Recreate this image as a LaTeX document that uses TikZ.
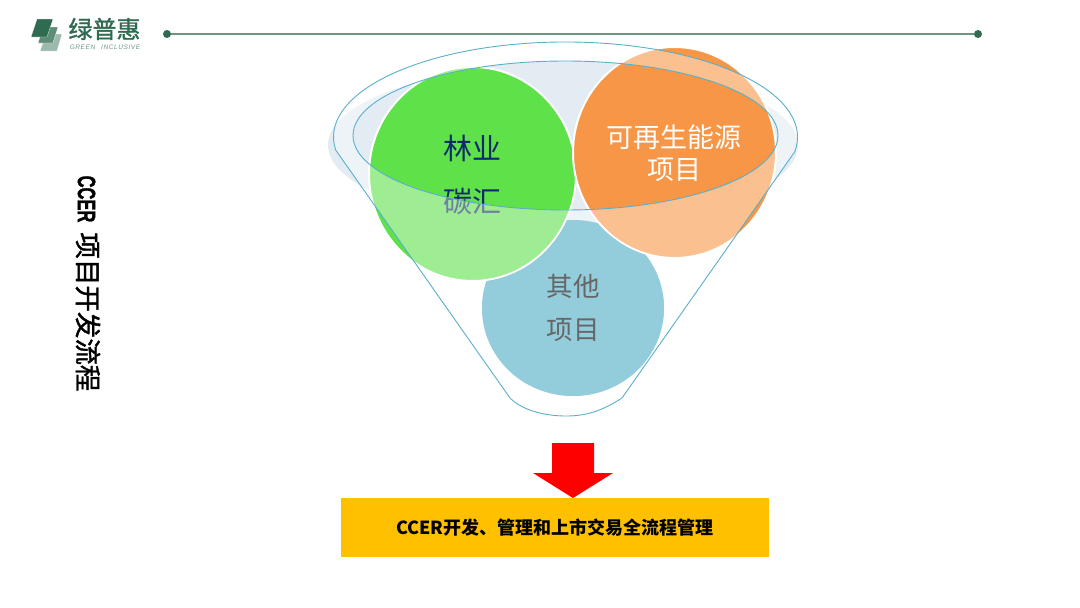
\documentclass[tikz,border=0pt]{standalone}
\usepackage{fontspec}
\usepackage{xcolor}
\setmainfont{Liberation Sans}
\newfontfamily\cjk{Noto Sans CJK SC}
\newfontfamily\cjkheavy[FakeBold=1.5]{Noto Sans CJK SC}
\newfontfamily\latinheavy[FakeBold=1.5]{Liberation Sans Bold}
\newfontfamily\logofont[LetterSpace=9,WordSpace=2.5]{Liberation Sans}
\usetikzlibrary{positioning}
\definecolor{logogreen}{HTML}{2F6B50}
\definecolor{logomid}{HTML}{5E8C76}
\definecolor{logopale}{HTML}{9DB9AB}
\definecolor{rulegreen}{HTML}{6F9580}
\definecolor{funnelblue}{HTML}{5AAFCB}
\definecolor{shadowblue}{HTML}{E3ECF3}
\definecolor{forestgreen}{HTML}{5FE14A}
\definecolor{energyorange}{HTML}{F79646}
\definecolor{otherblue}{HTML}{93CDDC}
\definecolor{navytext}{HTML}{0F2A6B}
\definecolor{greytext}{HTML}{666666}
\definecolor{boxyellow}{HTML}{FFC000}
\tikzset{
  dotnode/.style={circle, fill=logogreen, inner sep=0, minimum size=8},
  logoleaf/.style={draw=white, line width=0.3pt},
  bubble/.style={draw=white, line width=2pt},
  funnelline/.style={draw=funnelblue, line width=0.9pt},
  bigtext/.style={font=\cjk\fontsize{28}{34}\selectfont, align=center, inner sep=0},
}
\begin{document}
\begin{tikzpicture}[x=1pt, y=1pt]
      \useasboundingbox (0,-608) rectangle (1080,0);
      % logo
      \filldraw[fill=logopale, logoleaf] (46,-34) -- (62,-34) -- (57,-51) -- (40,-51) -- cycle;
      \filldraw[fill=logomid, logoleaf] (43,-27) -- (58,-27) -- (53,-43) -- (38,-43) -- cycle;
      \filldraw[fill=logogreen, logoleaf] (37,-19) -- (53,-19) -- (47,-37) -- (31,-37) -- cycle;
      \node[text=logogreen, font=\cjkheavy\fontsize{24}{26}\selectfont, inner sep=0] (brand) at (104.5,-29) {绿普惠};
      \node[text=rulegreen, font=\logofont\itshape\fontsize{6.5}{8}\selectfont, inner sep=0] (brandsub) at (105,-47) {GREEN INCLUSIVE};
      % header rule
      \node[dotnode] (RuleL) at (167,-34) {};
      \node[dotnode] (RuleR) at (978,-34) {};
      \draw[rulegreen, line width=1.2pt] (RuleL) -- (RuleR);
      % side title
      \node[rotate=-90, inner sep=0] (title) at (88,-283.5) {\fontsize{25}{30}\selectfont\scalebox{0.66}[1]{\latinheavy CCER}\hspace{10pt}{\cjkheavy\fontsize{26.5}{30}\selectfont 项目开发流程}};

      % funnel
      \fill[shadowblue] (563,-145) ellipse [x radius=235, y radius=80];
      \fill[shadowblue] (565.5,-135.5) ellipse [x radius=212.5, y radius=74.5];
      \fill[otherblue] (573,-308) ellipse [x radius=91, y radius=88];
      \filldraw[fill=forestgreen, bubble] (472.5,-174) ellipse [x radius=103.5, y radius=107];
      \filldraw[fill=energyorange, bubble] (674.5,-152.5) ellipse [x radius=101.5, y radius=105.5];
      \node[bigtext, text=navytext, font=\cjk\fontsize{29}{34}\selectfont] (forest1) at (472,-148) {林业};
      \node[bigtext, text=navytext, font=\cjk\fontsize{29}{34}\selectfont] (forest2) at (472,-201) {碳汇};
      \node[bigtext, text=white, font=\cjk\fontsize{27}{32}\selectfont] (energy) at (674,-153) {可再生能源\\项目};

      \coordinate (FunnelR) at (622,-398);
      \coordinate (FunnelL) at (510,-398);
      \coordinate (FunnelB) at (566,-416);
      % veil over the funnel wall
      \fill[white, opacity=0.4, even odd rule] (335.8,-150.2) arc [start angle=188, end angle=-9, x radius=232, y radius=95]
          -- (FunnelR) .. controls (602,-411) and (586,-416) .. (FunnelB)
          .. controls (544,-416) and (522,-410) .. (FunnelL) -- cycle
          (565.5,-135.5) ellipse [x radius=212.5, y radius=74.5];
      \begin{scope}[even odd rule]
          \clip (0,-608) rectangle (1080,0) (472.5,-174) ellipse [x radius=104.5, y radius=108];
          \clip (0,-608) rectangle (1080,0) (674.5,-152.5) ellipse [x radius=102.5, y radius=106.5];
          \fill[otherblue] (573,-308) ellipse [x radius=91, y radius=88];
      \end{scope}
      \node[bigtext, text=greytext, font=\cjk\fontsize{26.5}{32}\selectfont] (other1) at (573,-286) {其他};
      \node[bigtext, text=greytext, font=\cjk\fontsize{26.5}{32}\selectfont] (other2) at (573,-330) {项目};
      \draw[funnelline] (335.8,-150.2) arc [start angle=188, end angle=-9, x radius=232, y radius=95]
          -- (FunnelR) .. controls (602,-411) and (586,-416) .. (FunnelB)
          .. controls (544,-416) and (522,-410) .. (FunnelL) -- cycle;
      \draw[funnelline] (565.5,-135.5) ellipse [x radius=212.5, y radius=74.5];

      % result
      \fill[red] (552,-443) -- (594,-443) -- (594,-473) -- (613,-473) -- (573,-498) -- (533,-473) -- (552,-473) -- cycle;
      \node[fill=boxyellow, minimum width=428, minimum height=59, inner sep=0, font=\cjk\bfseries\fontsize{18}{22}\selectfont] (result) at (555,-527.5) {CCER开发、管理和上市交易全流程管理};
\end{tikzpicture}
\end{document}
